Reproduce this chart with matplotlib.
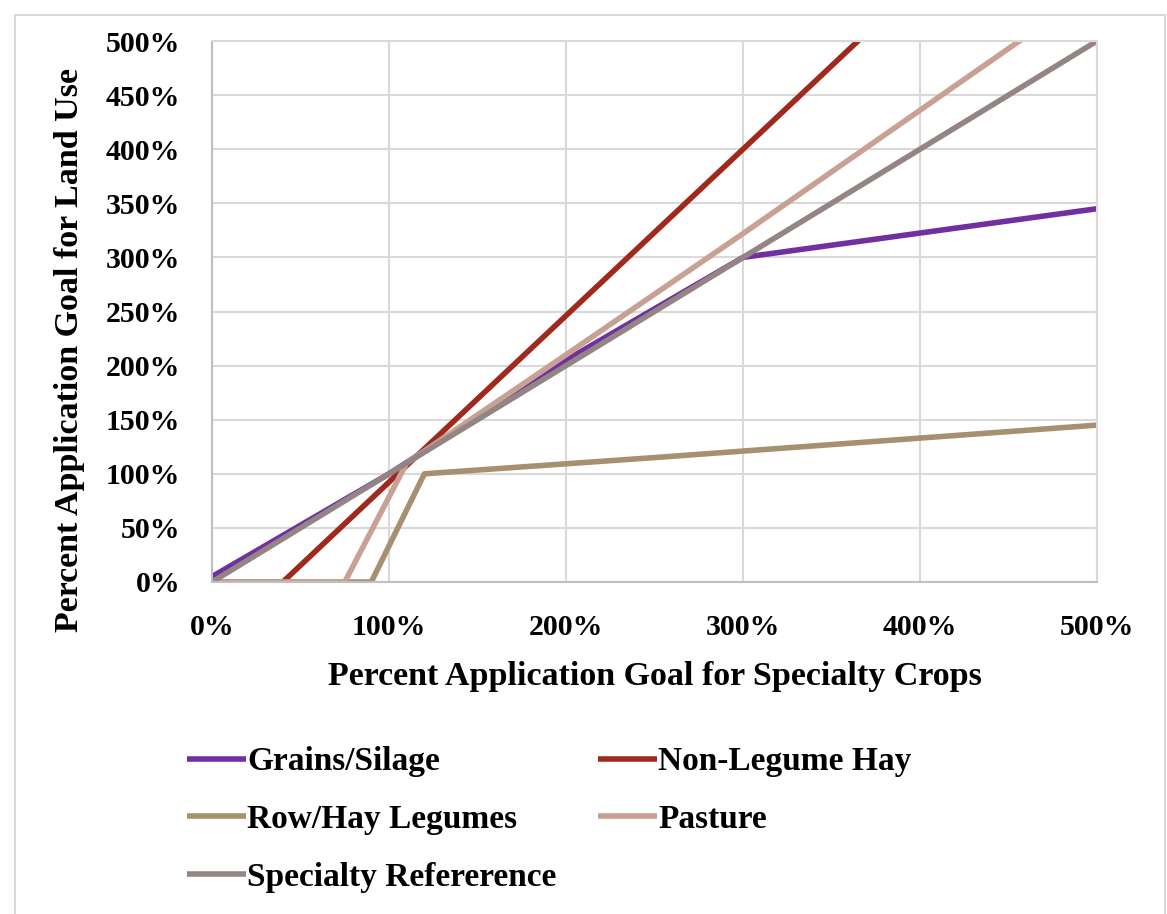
import matplotlib
matplotlib.use("Agg")
import matplotlib.pyplot as plt
from matplotlib.patches import Rectangle
from matplotlib.ticker import FuncFormatter, MultipleLocator

plt.rcParams['font.family'] = ['Liberation Serif', 'DejaVu Serif']
plt.rcParams['font.weight'] = 'bold'

# specialty crop goal (%) vs land use goal (%)
grains_x = [0, 100, 200, 300, 500]
grains_y = [5, 100, 205, 300, 345]
nonleg_x = [0, 40, 300, 500]
nonleg_y = [0, 0, 400, 708]
rowhay_x = [0, 90, 120, 250, 500]
rowhay_y = [0, 0, 100, 115, 145]
pasture_x = [0, 75, 110, 200, 300, 500]
pasture_y = [0, 0, 110, 210, 322, 550]
spec_x = [0, 500]
spec_y = [0, 500]

names = ['Grains/Silage', 'Non-Legume Hay', 'Row/Hay Legumes', 'Pasture', 'Specialty Refererence']
colors = ['#7030A0', '#A0291E', '#A69070', '#C9A194', '#948585']

fig = plt.figure(figsize=(11.67, 9.14), dpi=100)
ax = fig.add_axes([212/1167, 1-582/914, (1097-212)/1167, (582-41)/914])

lines = []
for xs, ys, nm, c in zip([grains_x, nonleg_x, rowhay_x, pasture_x, spec_x],
                         [grains_y, nonleg_y, rowhay_y, pasture_y, spec_y],
                         names, colors):
    l, = ax.plot(xs, ys, color=c, lw=4, label=nm, solid_capstyle='butt')
    lines.append(l)

ax.set_xlim(0, 500)
ax.set_ylim(0, 500)
ax.xaxis.set_major_locator(MultipleLocator(100))
ax.yaxis.set_major_locator(MultipleLocator(50))
pct = FuncFormatter(lambda v, p: '%d%%' % v)
ax.xaxis.set_major_formatter(pct)
ax.yaxis.set_major_formatter(pct)
ax.tick_params(length=0, labelsize=21.5)
ax.tick_params(axis='y', pad=23)
ax.tick_params(axis='x', pad=23)
ax.grid(True, color='#D9D9D9', lw=1.5)
ax.set_axisbelow(True)
for s in ['top', 'right']:
    ax.spines[s].set_color('#D9D9D9')
    ax.spines[s].set_linewidth(1.5)
for s in ['left', 'bottom']:
    ax.spines[s].set_color('#BFBFBF')
    ax.spines[s].set_linewidth(1.5)

fig.text(655/1167, 1-676/914, 'Percent Application Goal for Specialty Crops',
         ha='center', va='center', fontsize=24.5, fontweight='bold')
fig.text(70/1167, 1-350/914, 'Percent Application Goal for Land Use',
         ha='center', va='center', rotation=90, fontsize=24.5, fontweight='bold')

order = [0, 2, 4, 1, 3]
leg = fig.legend([lines[i] for i in order], [names[i] for i in order],
                 ncol=2, loc='upper left', bbox_to_anchor=(174/1167, 1-733/914),
                 frameon=False, fontsize=24, handlelength=1.75, handletextpad=0.05,
                 columnspacing=1.25, labelspacing=0.8, borderaxespad=0)

# outer chart frame
fig.patches.append(Rectangle((15/1167, -0.05), 1150/1167, 1.05-15/914,
                             transform=fig.transFigure, fill=False,
                             edgecolor='#D9D9D9', lw=1.5))

fig.savefig('out.png', dpi=100)
